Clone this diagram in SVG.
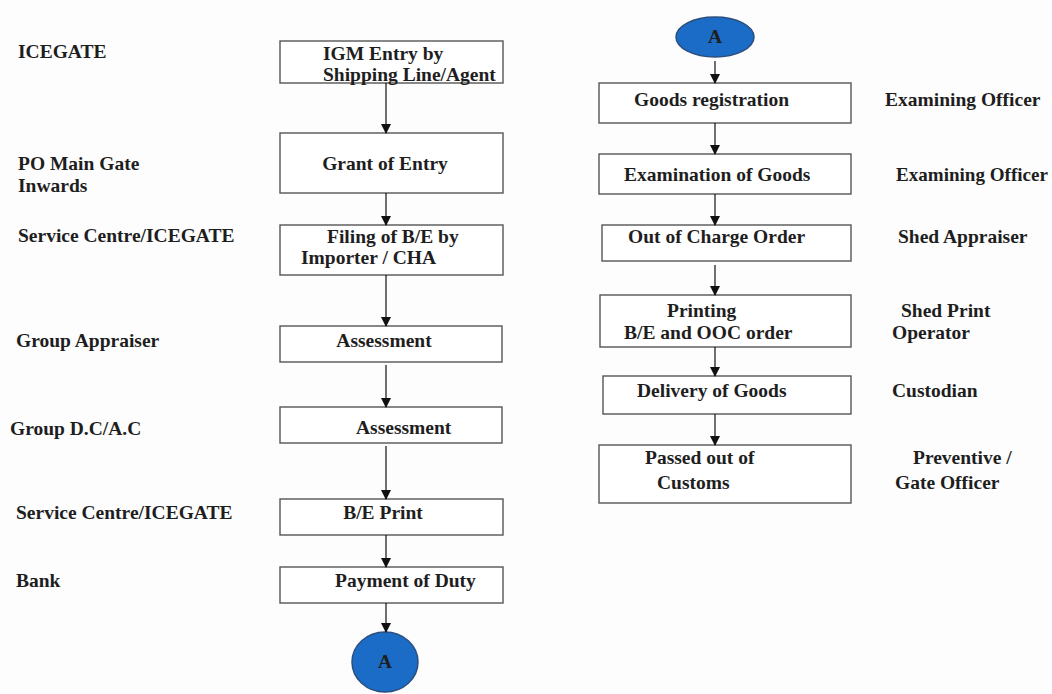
<svg xmlns="http://www.w3.org/2000/svg" width="1052" height="694" viewBox="0 0 1052 694">
<defs>
<marker id="ah" markerWidth="10" markerHeight="10" refX="9" refY="5" orient="auto" markerUnits="userSpaceOnUse"><path d="M0,0 L10,5 L0,10 Z" fill="#111"/></marker>
<style>
.box{fill:#fff;stroke:#555;stroke-width:1.4}
.t{font-family:"Liberation Serif","Times New Roman",serif;font-weight:bold;font-size:19.5px;fill:#1e1e1e}
.c{stroke:#111;stroke-width:1.2;fill:none;marker-end:url(#ah)}
.circ{fill:#1a6cc6;stroke:#2b4f7e;stroke-width:1.5}
</style>
</defs>
<rect width="1052" height="694" fill="#fdfdfd"/>
<g id="lbl-left">
<text class="t" x="18" y="58">ICEGATE</text>
<text class="t" x="18" y="170">PO Main Gate</text>
<text class="t" x="18" y="192">Inwards</text>
<text class="t" x="18" y="242">Service Centre/ICEGATE</text>
<text class="t" x="16" y="347">Group Appraiser</text>
<text class="t" x="10" y="435">Group D.C/A.C</text>
<text class="t" x="16" y="519">Service Centre/ICEGATE</text>
<text class="t" x="16" y="587">Bank</text>
</g>
<g id="n1"><rect class="box" x="280" y="41" width="223" height="42"/><text class="t" x="323" y="60">IGM Entry by</text><text class="t" x="323" y="81">Shipping Line/Agent</text></g>
<g id="n2"><rect class="box" x="280" y="133" width="223" height="60"/><text class="t" x="385" y="170" text-anchor="middle">Grant of Entry</text></g>
<g id="n3"><rect class="box" x="280" y="225" width="223" height="50"/><text class="t" x="327" y="243">Filing of B/E by</text><text class="t" x="301" y="264">Importer / CHA</text></g>
<g id="n4"><rect class="box" x="280" y="326" width="222" height="36"/><text class="t" x="384" y="347" text-anchor="middle">Assessment</text></g>
<g id="n5"><rect class="box" x="280" y="407" width="222" height="36"/><text class="t" x="356" y="434">Assessment</text></g>
<g id="n6"><rect class="box" x="280" y="499" width="223" height="36"/><text class="t" x="383" y="519" text-anchor="middle">B/E Print</text></g>
<g id="n7"><rect class="box" x="280" y="567" width="223" height="36"/><text class="t" x="335" y="587">Payment of Duty</text></g>
<g id="a1"><ellipse class="circ" cx="385" cy="662" rx="33" ry="30"/><text class="t" x="385" y="668" text-anchor="middle" font-size="16">A</text></g>
<g id="a2"><ellipse class="circ" cx="715" cy="37" rx="39" ry="20"/><text class="t" x="715" y="43" text-anchor="middle" font-size="16">A</text></g>
<g id="m1"><rect class="box" x="599" y="83" width="252" height="40"/><text class="t" x="634" y="106">Goods registration</text></g>
<g id="m2"><rect class="box" x="599" y="154" width="252" height="40"/><text class="t" x="624" y="181">Examination of Goods</text></g>
<g id="m3"><rect class="box" x="602" y="225" width="249" height="36"/><text class="t" x="628" y="243">Out of Charge Order</text></g>
<g id="m4"><rect class="box" x="600" y="295" width="251" height="52"/><text class="t" x="667" y="317">Printing</text><text class="t" x="624" y="339">B/E and OOC order</text></g>
<g id="m5"><rect class="box" x="603" y="376" width="248" height="38"/><text class="t" x="637" y="397">Delivery of Goods</text></g>
<g id="m6"><rect class="box" x="599" y="445" width="252" height="58"/><text class="t" x="645" y="464">Passed out of</text><text class="t" x="657" y="489">Customs</text></g>
<g id="lbl-right">
<text class="t" x="885" y="106">Examining Officer</text>
<text class="t" x="896" y="181" textLength="152" lengthAdjust="spacingAndGlyphs">Examining Officer</text>
<text class="t" x="898" y="243">Shed Appraiser</text>
<text class="t" x="901" y="317">Shed Print</text>
<text class="t" x="892" y="339">Operator</text>
<text class="t" x="892" y="397">Custodian</text>
<text class="t" x="913" y="464">Preventive /</text>
<text class="t" x="895" y="489">Gate Officer</text>
</g>
<g id="connectors">
<line class="c" x1="386" y1="83" x2="386" y2="133"/>
<line class="c" x1="386" y1="193" x2="386" y2="225"/>
<line class="c" x1="386" y1="275" x2="386" y2="326"/>
<line class="c" x1="386" y1="365" x2="386" y2="407"/>
<line class="c" x1="386" y1="446" x2="386" y2="499"/>
<line class="c" x1="386" y1="535" x2="386" y2="567"/>
<line class="c" x1="386" y1="603" x2="386" y2="632"/>
<line class="c" x1="715" y1="61" x2="715" y2="83"/>
<line class="c" x1="715" y1="123" x2="715" y2="154"/>
<line class="c" x1="715" y1="194" x2="715" y2="225"/>
<line class="c" x1="715" y1="265" x2="715" y2="295"/>
<line class="c" x1="715" y1="347" x2="715" y2="376"/>
<line class="c" x1="715" y1="414" x2="715" y2="445"/>
</g>
</svg>
